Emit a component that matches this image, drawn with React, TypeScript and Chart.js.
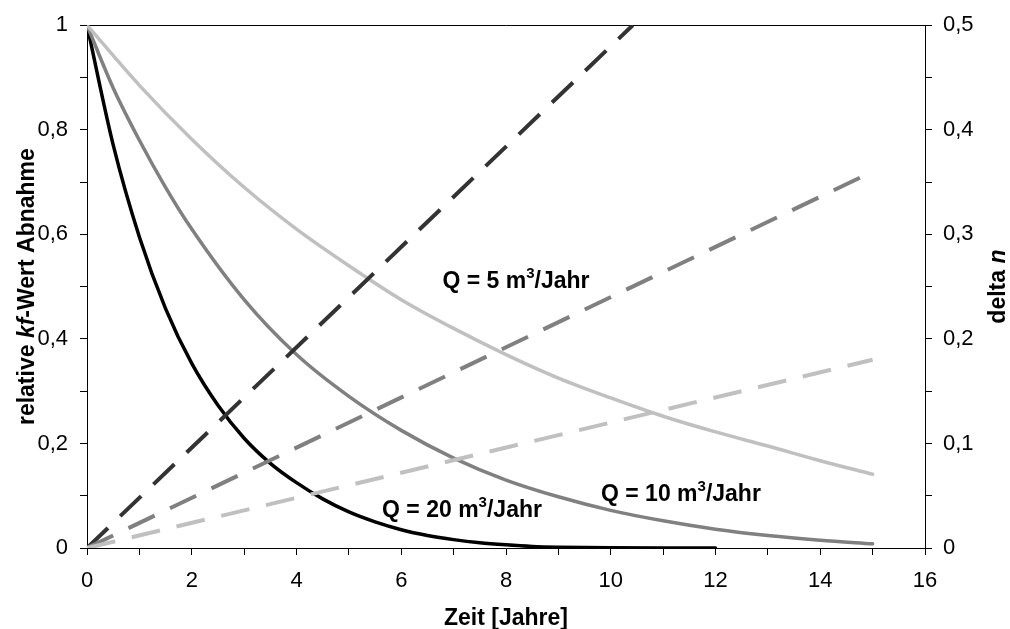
import React, { useEffect, useRef } from "react";
import { Chart, registerables } from "chart.js";

Chart.register(...registerables);

// ---- data ----
const yearsQ20 = [0, 0.5, 1, 1.5, 2, 2.5, 3, 3.5, 4, 4.5, 5, 5.5, 6, 6.5, 7, 7.5, 8, 8.5, 9, 10, 11, 12];
const kfQ20 = [1, 0.771, 0.595, 0.458, 0.353, 0.273, 0.21, 0.162, 0.125, 0.094, 0.069, 0.05, 0.035, 0.024, 0.016, 0.01, 0.006, 0.003, 0.0015, 0.0003, 0, 0];

const yearsQ10 = [0, 0.5, 1, 1.5, 2, 3, 4, 5, 6, 7, 8, 9, 10, 11, 12, 13, 14, 15];
const kfQ10 = [1, 0.88, 0.78, 0.69, 0.61, 0.475, 0.37, 0.29, 0.225, 0.172, 0.13, 0.098, 0.072, 0.052, 0.036, 0.024, 0.015, 0.008];

const yearsQ5 = [0, 1, 2, 3, 4, 5, 6, 7, 8, 9, 10, 11, 12, 13, 14, 15];
const kfQ5 = [1, 0.885, 0.782, 0.69, 0.61, 0.54, 0.475, 0.42, 0.37, 0.325, 0.287, 0.252, 0.222, 0.195, 0.167, 0.141];

const dnYears = [0, 15];
const dnQ5 = [0, 0.18];
const dnQ10 = [0, 0.36];
const dnYearsQ20 = [0, 10.42];
const dnQ20 = [0, 0.5];

const xTickLabels = ["0", "2", "4", "6", "8", "10", "12", "14", "16"];
const leftTickLabels = ["0", "0,2", "0,4", "0,6", "0,8", "1"];
const rightTickLabels = ["0", "0,1", "0,2", "0,3", "0,4", "0,5"];

const qLabels = ["5", "10", "20"];
// label anchors in data coordinates (years, left-axis value)
const qLabelYears = [8.19, 11.34, 7.16];
const qLabelValues = [0.513, 0.106, 0.074];

const FONT = "'Liberation Sans', Arial, Helvetica, sans-serif";

const toXY = (xs: number[], ys: number[]) => xs.map((x, i) => ({ x, y: ys[i] }));

type Run = { text: string; font: string; dy?: number };

function drawRuns(ctx: CanvasRenderingContext2D, runs: Run[], cx: number, baseline: number, angle: number) {
  ctx.save();
  ctx.translate(cx, baseline);
  ctx.rotate(angle);
  ctx.textAlign = "left";
  ctx.textBaseline = "alphabetic";
  ctx.fillStyle = "#000";
  let total = 0;
  const widths = runs.map((r) => {
    ctx.font = r.font;
    const w = ctx.measureText(r.text).width;
    total += w;
    return w;
  });
  let x = -total / 2;
  runs.forEach((r, i) => {
    ctx.font = r.font;
    ctx.fillText(r.text, x, r.dy || 0);
    x += widths[i];
  });
  ctx.restore();
}

const textPlugin = {
  id: "texts",
  afterDraw(chart: any) {
    const { ctx, chartArea, scales } = chart;
    const bold = `bold 23px ${FONT}`;
    const boldItalic = `italic bold 23px ${FONT}`;
    const sup = `bold 15px ${FONT}`;
    const cy = (chartArea.top + chartArea.bottom) / 2;
    const cx = (chartArea.left + chartArea.right) / 2;
    // x title
    drawRuns(ctx, [{ text: "Zeit [Jahre]", font: bold }], cx, chartArea.bottom + 77, 0);
    // left title
    drawRuns(
      ctx,
      [
        { text: "relative ", font: bold },
        { text: "kf", font: boldItalic },
        { text: "-Wert Abnahme", font: bold },
      ],
      chartArea.left - 53,
      cy,
      -Math.PI / 2
    );
    // right title
    drawRuns(
      ctx,
      [
        { text: "delta ", font: bold },
        { text: "n", font: boldItalic },
      ],
      chartArea.right + 80,
      cy,
      -Math.PI / 2
    );
    // Q labels
    qLabels.forEach((q, i) => {
      const px = scales.x.getPixelForValue(qLabelYears[i]);
      const py = scales.y.getPixelForValue(qLabelValues[i]);
      drawRuns(
        ctx,
        [
          { text: `Q = ${q} m`, font: bold },
          { text: "3", font: sup, dy: -10 },
          { text: "/Jahr", font: bold },
        ],
        px,
        py + 8,
        0
      );
    });
  },
};

export default function App() {
  const ref = useRef<HTMLCanvasElement | null>(null);

  useEffect(() => {
    if (!ref.current) return;
    const tickFont = { family: FONT, size: 22 };
    const axisGrid = {
      display: true,
      drawOnChartArea: false,
      drawTicks: true,
      tickLength: 7,
      color: "#000",
      tickColor: "#000",
      lineWidth: 1,
    };
    const border = { display: true, color: "#000", width: 1 };
    const dash = [29, 17];

    const chart = new Chart(ref.current, {
      type: "line",
      data: {
        datasets: [
          {
            label: "dn Q=5",
            data: toXY(dnYears, dnQ5),
            yAxisID: "y1",
            borderColor: "#c0c0c0",
            borderWidth: 4,
            borderDash: dash,
            borderCapStyle: "butt",
            pointRadius: 0,
            fill: false,
          },
          {
            label: "dn Q=10",
            data: toXY(dnYears, dnQ10),
            yAxisID: "y1",
            borderColor: "#808080",
            borderWidth: 4,
            borderDash: dash,
            borderCapStyle: "butt",
            pointRadius: 0,
            fill: false,
          },
          {
            label: "dn Q=20",
            data: toXY(dnYearsQ20, dnQ20),
            yAxisID: "y1",
            borderColor: "#333333",
            borderWidth: 4,
            borderDash: dash,
            borderCapStyle: "butt",
            pointRadius: 0,
            fill: false,
          },
          {
            label: "kf Q=5",
            data: toXY(yearsQ5, kfQ5),
            yAxisID: "y",
            borderColor: "#c0c0c0",
            borderWidth: 3.5,
            cubicInterpolationMode: "monotone",
            borderCapStyle: "round",
            pointRadius: 0,
            fill: false,
          },
          {
            label: "kf Q=10",
            data: toXY(yearsQ10, kfQ10),
            yAxisID: "y",
            borderColor: "#808080",
            borderWidth: 3.5,
            cubicInterpolationMode: "monotone",
            borderCapStyle: "round",
            pointRadius: 0,
            fill: false,
          },
          {
            label: "kf Q=20",
            data: toXY(yearsQ20, kfQ20),
            yAxisID: "y",
            borderColor: "#000000",
            borderWidth: 3.5,
            cubicInterpolationMode: "monotone",
            borderCapStyle: "round",
            pointRadius: 0,
            fill: false,
          },
        ],
      },
      options: {
        responsive: false,
        maintainAspectRatio: false,
        animation: false,
        devicePixelRatio: 1,
        layout: { padding: { top: 22, left: 0, right: 0, bottom: 0 } },
        plugins: { legend: { display: false }, tooltip: { enabled: false }, title: { display: false } },
        scales: {
          x: {
            type: "linear",
            position: "bottom",
            min: 0,
            max: 16,
            grid: axisGrid,
            border,
            ticks: {
              stepSize: 1,
              autoSkip: false,
              maxRotation: 0,
              color: "#000",
              font: tickFont,
              padding: 13,
              callback: (v: any) => {
                const n = Math.round(Number(v));
                return n % 2 === 0 ? xTickLabels[n / 2] : "";
              },
            },
            afterFit: (s: any) => {
              s.height = 81;
            },
          },
          xTop: {
            type: "linear",
            position: "top",
            min: 0,
            max: 16,
            grid: { display: false },
            border,
            ticks: { display: false },
            afterFit: (s: any) => {
              s.height = 0;
            },
          },
          y: {
            type: "linear",
            position: "left",
            min: 0,
            max: 1,
            grid: axisGrid,
            border,
            ticks: {
              stepSize: 0.1,
              autoSkip: false,
              color: "#000",
              font: tickFont,
              padding: 12,
              callback: (v: any) => {
                const n = Math.round(Number(v) * 10);
                return n % 2 === 0 ? leftTickLabels[n / 2] : "";
              },
            },
            afterFit: (s: any) => {
              s.width = 87;
            },
          },
          y1: {
            type: "linear",
            position: "right",
            min: 0,
            max: 0.5,
            grid: axisGrid,
            border,
            ticks: {
              stepSize: 0.05,
              autoSkip: false,
              color: "#000",
              font: tickFont,
              padding: 11,
              callback: (v: any) => {
                const n = Math.round(Number(v) * 20);
                return n % 2 === 0 ? rightTickLabels[n / 2] : "";
              },
            },
            afterFit: (s: any) => {
              s.width = 85;
            },
          },
        },
      },
      plugins: [textPlugin],
    } as any);

    return () => chart.destroy();
  }, []);

  return (
    <div style={{ position: "fixed", left: 0, top: 0, width: 1010, height: 629, background: "#fff" }}>
      <canvas ref={ref} width={1010} height={629} style={{ display: "block", width: 1010, height: 629 }} />
    </div>
  );
}
